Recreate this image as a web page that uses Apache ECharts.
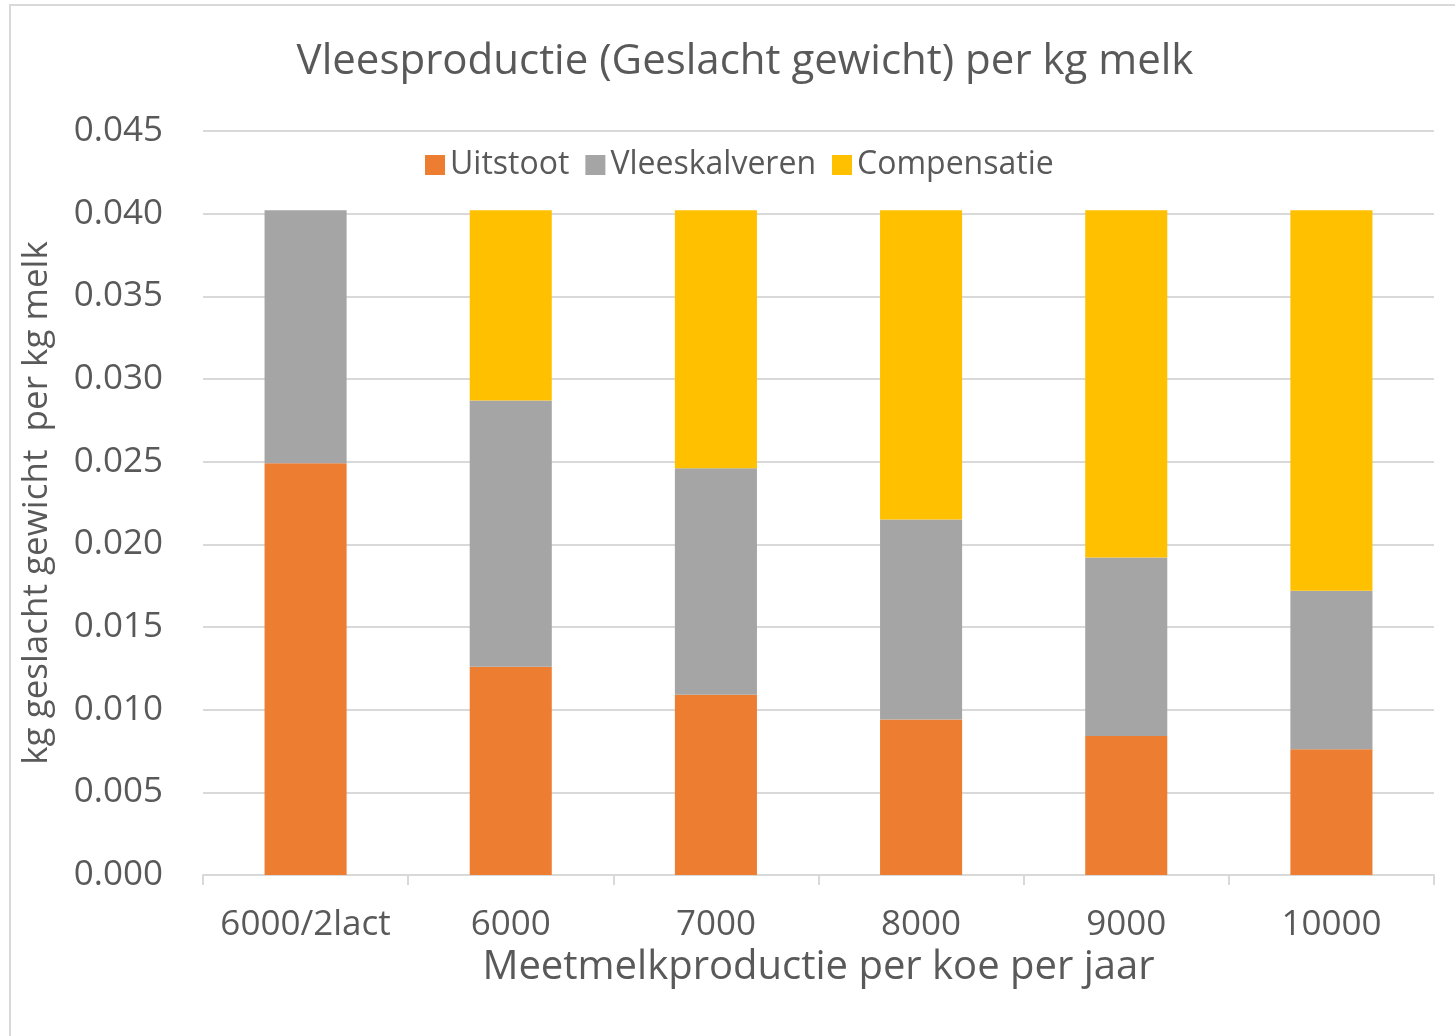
<!DOCTYPE html>
<html>
<head>
<meta charset="utf-8">
<script src="https://cdn.jsdelivr.net/npm/echarts@6/dist/echarts.min.js"></script>
<style>
  html, body { margin: 0; padding: 0; background: #fff; }
  #chart { width: 1455px; height: 1036px; }
</style>
</head>
<body>
<div id="chart"></div>
<script>
// categories and stacked values (kg geslacht gewicht per kg melk)
var categories = ['6000/2lact', '6000', '7000', '8000', '9000', '10000'];
var uitstoot = [0.0249, 0.0126, 0.0109, 0.0094, 0.0084, 0.0076];
var vleeskalveren = [0.0153, 0.0161, 0.0137, 0.0121, 0.0108, 0.0096];
var compensatie = [0, 0.0115, 0.0156, 0.0187, 0.0210, 0.0230];

var chart = echarts.init(document.getElementById('chart'));
var font = '"Open Sans", "Noto Sans", sans-serif';
var textColor = '#595959';

var option = {
  backgroundColor: '#fff',
  animation: false,
  textStyle: { fontFamily: font },
  title: {
    text: 'Vleesproductie (Geslacht gewicht) per kg melk',
    left: 740,
    top: 36,
    textAlign: 'center',
    textStyle: { fontFamily: font, fontSize: 42, fontWeight: 'normal', color: textColor }
  },
  legend: {
    top: 144,
    left: 420,
    itemWidth: 20,
    itemHeight: 20,
    itemGap: 16,
    icon: 'rect',
    textStyle: { fontFamily: font, fontSize: 32, color: textColor },
    data: ['Uitstoot', 'Vleeskalveren', 'Compensatie']
  },
  grid: { left: 203, right: 21, top: 131, bottom: 161 },
  xAxis: {
    type: 'category',
    data: categories,
    name: 'Meetmelkproductie per koe per jaar',
    nameLocation: 'middle',
    nameGap: 70,
    nameTextStyle: { fontFamily: font, fontSize: 40, color: textColor },
    axisLine: { lineStyle: { color: '#d9d9d9', width: 2 } },
    axisTick: { show: true, length: 10, lineStyle: { color: '#d9d9d9', width: 2 } },
    axisLabel: { interval: 0, fontFamily: font, fontSize: 35, color: textColor, margin: 33 }
  },
  yAxis: {
    type: 'value',
    min: 0,
    max: 0.045,
    interval: 0.005,
    name: 'kg geslacht gewicht  per kg melk',
    nameLocation: 'middle',
    nameGap: 148,
    nameTextStyle: { fontFamily: font, fontSize: 35, color: textColor },
    axisLine: { show: false },
    axisTick: { show: false },
    axisLabel: {
      fontFamily: font, fontSize: 35, color: textColor, margin: 40,
      formatter: function (v) { return v.toFixed(3); }
    },
    splitLine: { lineStyle: { color: '#d9d9d9', width: 2 } }
  },
  graphic: [{
    type: 'rect',
    shape: { x: 10, y: 5, width: 1460, height: 1040 },
    style: { fill: 'none', stroke: '#d9d9d9', lineWidth: 2 },
    silent: true
  }],
  series: [
    { name: 'Uitstoot', type: 'bar', stack: 'a', barWidth: '40%', data: uitstoot, itemStyle: { color: '#ED7D31' } },
    { name: 'Vleeskalveren', type: 'bar', stack: 'a', data: vleeskalveren, itemStyle: { color: '#A5A5A5' } },
    { name: 'Compensatie', type: 'bar', stack: 'a', data: compensatie, itemStyle: { color: '#FFC000' } }
  ]
};
chart.setOption(option);
</script>
</body>
</html>
